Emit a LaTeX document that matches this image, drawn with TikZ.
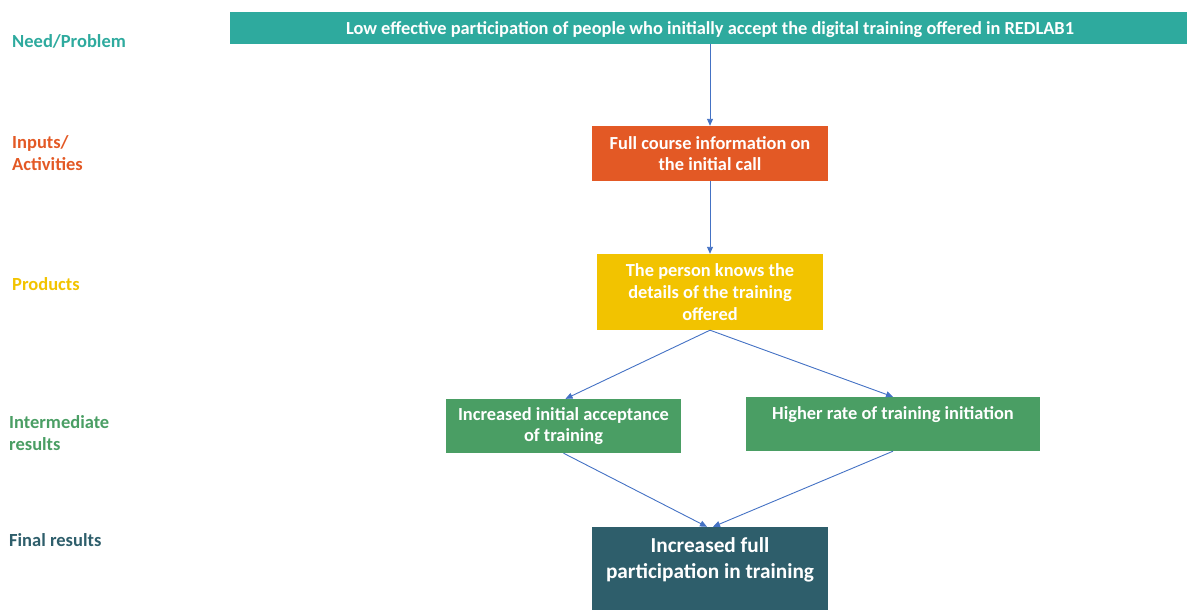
\documentclass[tikz,border=0pt]{standalone}
\usepackage{fontspec}
\setmainfont{Carlito}
\usetikzlibrary{arrows.meta}

\definecolor{needc}{HTML}{2EAA9E}
\definecolor{inputc}{HTML}{E35925}
\definecolor{prodc}{HTML}{F2C300}
\definecolor{interc}{HTML}{4A9E64}
\definecolor{finalc}{HTML}{2E5E6B}
\definecolor{linkc}{HTML}{4472C4}

\tikzset{
  box/.style={fill=#1, text=white, font=\bfseries\fontsize{18.4}{21.8}\selectfont,
    align=center, inner sep=0pt, anchor=center},
  boxtext/.style={text=white, font=\bfseries\fontsize{18.4}{21.8}\selectfont,
    align=center, inner sep=0pt},
  rowlabel/.style={text=#1, font=\bfseries\fontsize{18.5}{22}\selectfont,
    align=left, anchor=west, inner sep=0pt},
  link/.style={draw=linkc, line width=0.9pt, -{Triangle[length=7pt,width=6pt]}}
}

\begin{document}
\begin{tikzpicture}[x=1pt,y=-1pt]
  \useasboundingbox (0,0) rectangle (1187,610);

  % row labels
  \node[rowlabel=needc]   (lneed)  at (12,41)    {Need/Problem};
  \node[rowlabel=inputc]  (linput) at (12,153.5) {Inputs/\\Activities};
  \node[rowlabel=prodc]   (lprod)  at (12,284)   {Products};
  \node[rowlabel=interc]  (linter) at (9,433)    {Intermediate\\results};
  \node[rowlabel=finalc]  (lfinal) at (9,540)    {Final results};

  % boxes
  \node[box=needc, minimum width=957pt, minimum height=32pt] (need) at (708.5,28) {};
  \node[boxtext] (needtext) at ([xshift=1.5pt,yshift=-2pt]need.center)
    {Low effective participation of people who initially accept the digital training offered in REDLAB1};
  \node[box=inputc, minimum width=236pt, minimum height=55pt] (input) at (710,153.5)
    {Full course information on\\the initial call};
  \node[box=prodc, minimum width=226pt, minimum height=76pt] (prod) at (710,292)
    {The person knows the\\details of the training\\offered};
  \node[box=interc, minimum width=235pt, minimum height=54pt] (interA) at (563.5,426)
    {Increased initial acceptance\\of training};
  \node[box=interc, minimum width=294pt, minimum height=54pt] (interB) at (893,424)
    {Higher rate of training initiation\\[1pt]\mbox{}};
  \node[box=finalc, font=\bfseries\fontsize{21.3}{26}\selectfont,
        minimum width=236pt, minimum height=83pt] (final) at (710,568.5)
    {Increased full\\participation in training\\[-6pt]\mbox{}};

  % connectors
  \draw[link] (need.south -| input.north) -- (input.north);
  \draw[link] (input.south) -- (prod.north);
  \draw[link] (prod.south) -- ([xshift=2pt]interA.north);
  \draw[link] (prod.south) -- (interB.north);
  \draw[link] (interA.south) -- ([xshift=-3pt]final.north);
  \draw[link] (interB.south) -- ([xshift=3pt]final.north);
\end{tikzpicture}
\end{document}
